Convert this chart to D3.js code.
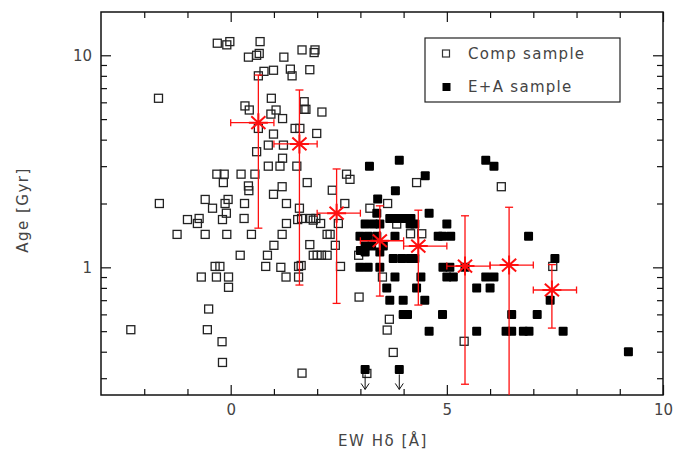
<!DOCTYPE html>
<html>
<head>
<meta charset="utf-8">
<script src="https://cdn.jsdelivr.net/npm/d3@7/dist/d3.min.js"></script>
<style>
  body { margin: 0; background: #fff; }
  text { font-family: "DejaVu Sans", sans-serif; }
</style>
</head>
<body>
<div id="chart"></div>
<script>
// comparison sample: [EW Hdelta (A), age (Gyr)]
var compPoints = [
  [-0.31,11.4],[-0.09,11.2],[-0.02,11.6],[0.68,11.6],[0.66,10.2],[0.60,10.0],[0.41,9.8],[1.23,9.8],
  [1.65,10.6],[1.95,10.6],[1.93,10.3],[0.77,8.4],[0.64,8.0],[0.99,8.5],[1.38,8.6],[1.42,8.0],[1.83,8.55],
  [-1.67,6.27],[0.94,6.27],[0.33,5.77],[0.43,5.52],[1.05,5.52],[0.93,5.28],[1.20,5.03],[1.70,6.04],
  [1.70,5.56],[1.74,5.56],[2.11,5.4],[0.64,4.52],[1.49,4.52],[1.60,4.52],[0.99,4.25],[1.99,4.28],
  [0.87,3.77],[1.22,3.77],[0.60,3.51],[1.20,3.27],[0.87,3.0],[1.14,3.0],[1.53,3.0],
  [-0.32,2.75],[-0.15,2.75],[0.24,2.75],[0.56,2.75],[-0.17,2.51],[0.41,2.42],[0.42,2.30],[1.19,2.40],
  [0.99,2.21],[1.77,2.51],[2.35,2.31],[2.68,2.75],[2.76,2.60],[4.30,2.51],
  [-0.59,2.09],[-0.06,2.09],[-0.13,2.0],[0.32,2.0],[1.29,2.0],[-1.65,2.0],[-0.42,1.90],[-0.10,1.80],
  [1.59,1.90],[2.64,2.0],[3.22,1.90],[3.63,2.0],
  [-1.00,1.68],[-0.73,1.70],[-0.77,1.61],[-0.19,1.68],[0.31,1.70],[1.29,1.61],[1.55,1.68],[1.64,1.70],
  [1.85,1.70],[1.91,1.67],[1.97,1.70],[2.08,1.61],[2.49,1.61],[3.84,1.60],
  [-1.24,1.43],[-0.59,1.43],[-0.09,1.43],[0.48,1.43],[1.19,1.43],[2.23,1.43],[2.30,1.43],[4.16,1.44],[4.42,1.44],
  [1.00,1.27],[1.83,1.28],[2.42,1.27],
  [0.22,1.14],[0.85,1.14],[1.91,1.14],[2.00,1.14],[2.10,1.14],[2.23,1.14],[2.96,1.14],
  [-0.36,1.01],[-0.25,1.01],[0.81,1.01],[1.16,1.0],[1.57,1.01],[1.63,1.02],[2.54,1.01],[7.45,1.01],
  [-0.68,0.90],[-0.33,0.90],[-0.05,0.90],[1.28,0.90],[1.57,0.90],[3.51,0.90],
  [-0.05,0.805],[2.97,0.724],[-0.51,0.636],[-2.31,0.508],[-0.54,0.508],[3.67,0.569],[3.62,0.506],
  [-0.20,0.446],[3.76,0.397],[-0.19,0.356],[1.65,0.317],[3.15,0.316],[5.40,0.448],[6.26,2.40]
];

// E+A sample
var eaPoints = [
  [3.21,3.0],[3.90,3.2],[4.50,2.7],[3.81,2.3],[3.40,2.1],[4.59,1.8],[3.38,1.8],
  [3.68,1.7],[3.85,1.7],[4.01,1.7],[4.17,1.7],
  [3.11,1.6],[3.30,1.6],[3.45,1.6],[4.15,1.6],[4.26,1.6],[5.00,1.6],
  [2.99,1.4],[3.18,1.4],[3.38,1.4],[3.80,1.4],[4.80,1.4],[4.90,1.4],[5.09,1.4],[6.89,1.4],
  [3.11,1.26],[3.26,1.26],[3.53,1.26],[3.00,1.2],[3.11,1.18],[3.45,1.18],
  [3.76,1.1],[3.96,1.1],[4.15,1.1],[4.26,1.1],
  [2.99,1.0],[3.18,1.0],[3.45,1.0],[4.91,1.0],[5.07,1.0],[5.42,1.0],
  [3.80,0.9],[4.40,0.9],[5.00,0.9],[5.15,0.9],[5.90,0.9],[6.09,0.9],
  [3.61,0.8],[4.30,0.8],[5.69,0.8],[6.00,0.8],
  [3.68,0.7],[3.99,0.7],[4.49,0.7],[7.39,0.7],
  [3.99,0.6],[4.09,0.6],[4.90,0.6],[6.50,0.6],[7.09,0.6],
  [4.59,0.5],[5.69,0.5],[6.37,0.5],[6.50,0.5],[6.77,0.5],[6.90,0.5],[7.69,0.5],
  [9.20,0.4],[5.90,3.2],[6.09,3.0],[7.50,1.1]
];
// E+A galaxies with upper limits on age
var eaLimits = [[3.11,0.33],[3.90,0.33]];

// binned medians
var binEW   = [0.64, 1.59, 2.45, 3.45, 4.34, 5.42, 6.44, 7.43];
var binAge  = [4.81, 3.82, 1.80, 1.335, 1.26, 1.014, 1.025, 0.782];
var binEWLo = [0, 1, 2, 3, 4, 5, 6, 7];
var binEWHi = [1, 2, 3, 4, 5, 6, 7, 8];
var binAgeLo = [1.53, 0.825, 0.676, 0.732, 0.664, 0.281, 0.2, 0.517];
var binAgeHi = [8.07, 6.86, 2.91, 1.95, 1.86, 1.75, 1.92, 1.03];

var xMajor = [0, 5, 10];
var xMinor = [-2, -1, 1, 2, 3, 4, 6, 7, 8, 9];
var yMajor = [1, 10];
var yMinor = [0.3, 0.4, 0.5, 0.6, 0.7, 0.8, 0.9, 2, 3, 4, 5, 6, 7, 8, 9];

var svgwidth = 686;
var svgheight = 452;
var margin = {top: 12, right: 23, bottom: 57, left: 101};
var width = svgwidth - margin.left - margin.right;
var height = svgheight - margin.top - margin.bottom;
var textColor = "#444";

var svg = d3.select("#chart").append("svg").attr("width", svgwidth).attr("height", svgheight);
var chartGroup = svg.append("g").attr("transform", `translate(${margin.left}, ${margin.top})`);

var xLinear = d3.scaleLinear().domain([-3, 10]).range([0, width]);
var yLog = d3.scaleLog().domain([0.25, 16]).range([height, 0]);

chartGroup.append("clipPath").attr("id", "plotclip")
  .append("rect").attr("width", width).attr("height", height);

// axes: ticks point inward on all four sides
function styleAxis(g) {
  g.select(".domain").remove();
  g.selectAll("line").attr("stroke", "#111").attr("stroke-width", 1.2);
  g.selectAll("text").attr("font-family", "DejaVu Sans").attr("font-size", 15).attr("fill", textColor);
}
chartGroup.append("g").attr("transform", `translate(0, ${height})`)
  .call(d3.axisBottom(xLinear).tickValues(xMinor).tickSize(-6).tickFormat("")).call(styleAxis);
chartGroup.append("g").attr("transform", `translate(0, ${height})`)
  .call(d3.axisBottom(xLinear).tickValues(xMajor).tickSize(-10).tickPadding(9).tickFormat(d3.format("d"))).call(styleAxis);
chartGroup.append("g")
  .call(d3.axisTop(xLinear).tickValues(xMinor).tickSize(-6).tickFormat("")).call(styleAxis);
chartGroup.append("g")
  .call(d3.axisTop(xLinear).tickValues(xMajor).tickSize(-10).tickFormat("")).call(styleAxis);

chartGroup.append("g")
  .call(d3.axisLeft(yLog).tickValues(yMinor).tickSize(-6).tickFormat("")).call(styleAxis);
chartGroup.append("g")
  .call(d3.axisLeft(yLog).tickValues(yMajor).tickSize(-10).tickPadding(9).tickFormat(d3.format("d"))).call(styleAxis);
chartGroup.append("g").attr("transform", `translate(${width}, 0)`)
  .call(d3.axisRight(yLog).tickValues(yMinor).tickSize(-6).tickFormat("")).call(styleAxis);
chartGroup.append("g").attr("transform", `translate(${width}, 0)`)
  .call(d3.axisRight(yLog).tickValues(yMajor).tickSize(-10).tickFormat("")).call(styleAxis);

chartGroup.append("rect").attr("width", width).attr("height", height)
  .attr("fill", "none").attr("stroke", "#111").attr("stroke-width", 1.5);

// comparison sample, open squares
chartGroup.append("g").selectAll("rect")
  .data(compPoints).enter().append("rect")
  .attr("x", d => xLinear(d[0]) - 4)
  .attr("y", d => yLog(d[1]) - 4)
  .attr("width", 8).attr("height", 8)
  .attr("fill", "none").attr("stroke", "#222").attr("stroke-width", 1.3);

// E+A sample, filled squares
chartGroup.append("g").selectAll("rect")
  .data(eaPoints.concat(eaLimits)).enter().append("rect")
  .attr("x", d => xLinear(d[0]) - 4.5)
  .attr("y", d => yLog(d[1]) - 4.5)
  .attr("width", 9).attr("height", 9).attr("rx", 1)
  .attr("fill", "#000");

// upper-limit arrows
var arrows = chartGroup.append("g").attr("stroke", "#111").attr("stroke-width", 1).attr("fill", "none");
eaLimits.forEach(function(d) {
  var cx = xLinear(d[0]), cy = yLog(d[1]);
  arrows.append("line").attr("x1", cx).attr("x2", cx).attr("y1", cy + 5).attr("y2", cy + 20);
  arrows.append("path").attr("d", `M${cx - 4},${cy + 14}L${cx},${cy + 20}L${cx + 4},${cy + 14}`);
});

// binned medians with error bars
var bins = binEW.map(function(ew, i) {
  return {ew: ew, age: binAge[i], ewLo: binEWLo[i], ewHi: binEWHi[i], ageLo: binAgeLo[i], ageHi: binAgeHi[i]};
});
var red = "#ff1010";
var errGroup = chartGroup.append("g").attr("clip-path", "url(#plotclip)")
  .attr("stroke", red).attr("stroke-width", 1.3).attr("fill", "none");
bins.forEach(function(b) {
  var cx = xLinear(b.ew), cy = yLog(b.age);
  var x0 = xLinear(b.ewLo), x1 = xLinear(b.ewHi);
  var y0 = yLog(b.ageLo), y1 = yLog(b.ageHi);
  errGroup.append("line").attr("x1", x0).attr("x2", x1).attr("y1", cy).attr("y2", cy);
  errGroup.append("line").attr("x1", x0).attr("x2", x0).attr("y1", cy - 3.5).attr("y2", cy + 3.5);
  errGroup.append("line").attr("x1", x1).attr("x2", x1).attr("y1", cy - 3.5).attr("y2", cy + 3.5);
  errGroup.append("line").attr("x1", cx).attr("x2", cx).attr("y1", y0).attr("y2", y1);
  errGroup.append("line").attr("x1", cx - 4).attr("x2", cx + 4).attr("y1", y0).attr("y2", y0);
  errGroup.append("line").attr("x1", cx - 4).attr("x2", cx + 4).attr("y1", y1).attr("y2", y1);
  // asterisk marker
  var r = 9.5, dx = r * Math.cos(Math.PI / 4.3), dy = r * Math.sin(Math.PI / 4.3);
  errGroup.append("path")
    .attr("d", `M${cx - dx},${cy - dy}L${cx + dx},${cy + dy}M${cx - dx},${cy + dy}L${cx + dx},${cy - dy}` +
               `M${cx},${cy - r}L${cx},${cy + r}M${cx - r},${cy}L${cx + r},${cy}`)
    .attr("stroke-width", 2);
});

// axis titles
svg.append("text").attr("x", 383).attr("y", 446).attr("text-anchor", "middle")
  .attr("font-size", 15).attr("fill", textColor).attr("letter-spacing", 1.5)
  .text("EW H\u03b4 [\u00c5]");
svg.append("text").attr("transform", "translate(28, 210) rotate(-90)").attr("text-anchor", "middle")
  .attr("font-size", 15).attr("fill", textColor).attr("letter-spacing", 1.5)
  .text("Age [Gyr]");

// legend
var legend = svg.append("g");
legend.append("rect").attr("x", 425).attr("y", 38).attr("width", 195).attr("height", 64)
  .attr("fill", "#fff").attr("stroke", "#222").attr("stroke-width", 1.2);
legend.append("rect").attr("x", 442.5).attr("y", 50).attr("width", 7).attr("height", 7)
  .attr("fill", "none").attr("stroke", "#333").attr("stroke-width", 1.2);
legend.append("rect").attr("x", 442.5).attr("y", 83).attr("width", 8).attr("height", 8)
  .attr("fill", "#000");
legend.append("text").attr("x", 468).attr("y", 59).attr("font-size", 15).attr("fill", textColor)
  .attr("letter-spacing", 1.3).text("Comp sample");
legend.append("text").attr("x", 468).attr("y", 92).attr("font-size", 15).attr("fill", textColor)
  .attr("letter-spacing", 1.3).text("E+A sample");
</script>
</body>
</html>
